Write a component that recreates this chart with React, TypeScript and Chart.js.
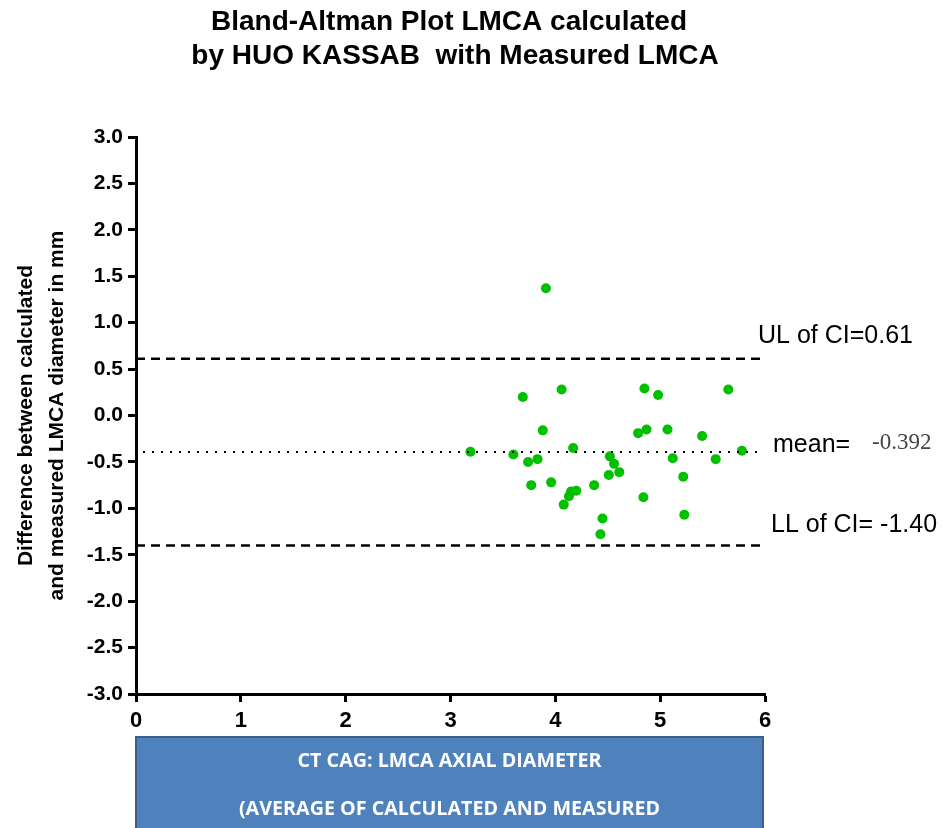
import React, { useEffect, useRef } from "react";
import { Chart, registerables } from "chart.js";

Chart.register(...registerables);

// Chart text
const titleLines = ["Bland-Altman Plot LMCA calculated", "by HUO KASSAB  with Measured LMCA"];
const yTitleLines = ["Difference between calculated", "and measured LMCA diameter in mm"];
const xBoxLines = ["CT CAG: LMCA AXIAL DIAMETER", "(AVERAGE OF CALCULATED AND MEASURED"];

// Average of calculated and measured LMCA diameter (mm)
const averages = [
  3.91, 3.69, 4.06, 4.85, 4.98, 5.65, 3.88, 4.79, 4.87, 5.07, 5.4, 3.19,
  3.6, 4.17, 5.78, 3.74, 3.83, 4.52, 4.56, 5.12, 5.53, 4.51, 4.61, 5.22,
  3.77, 3.96, 4.37, 4.2, 4.15, 4.13, 4.08, 4.84, 5.23, 4.45, 4.43,
];
// Difference between calculated and measured diameter (mm)
const differences = [
  1.37, 0.2, 0.28, 0.29, 0.22, 0.28, -0.16, -0.19, -0.15, -0.15, -0.22, -0.39,
  -0.42, -0.35, -0.38, -0.5, -0.47, -0.44, -0.52, -0.46, -0.47, -0.64, -0.61, -0.66,
  -0.75, -0.72, -0.75, -0.81, -0.82, -0.87, -0.96, -0.88, -1.07, -1.11, -1.28,
];

const meanDiff = -0.392;
const upperLimit = 0.61;
const lowerLimit = -1.4;
const lineEndX = 5.97;

const upperLabel = "UL of CI=0.61";
const meanLabel = "mean=";
const meanValueLabel = "-0.392";
const lowerLabel = "LL of CI= -1.40";

const SANS = '"Liberation Sans", Arial, sans-serif';

const annotations = {
  id: "blandAltmanText",
  afterDraw(chart: any) {
    const ctx: CanvasRenderingContext2D = chart.ctx;
    const y = chart.scales.y;
    const area = chart.chartArea;
    ctx.save();

    // Title
    ctx.fillStyle = "#000";
    ctx.textAlign = "center";
    ctx.textBaseline = "middle";
    ctx.font = `bold 28px ${SANS}`;
    ctx.fillText(titleLines[0], 449, 22);
    ctx.fillText(titleLines[1], 455, 56);

    // Y axis title (rotated)
    ctx.font = `bold 21px ${SANS}`;
    const yMid = (area.top + area.bottom) / 2;
    ctx.save();
    ctx.translate(26, yMid);
    ctx.rotate(-Math.PI / 2);
    ctx.fillText(yTitleLines[0], 0, 0);
    ctx.restore();
    ctx.save();
    ctx.translate(57, yMid);
    ctx.rotate(-Math.PI / 2);
    ctx.fillText(yTitleLines[1], 0, 0);
    ctx.restore();

    // Limit labels on the right
    ctx.textAlign = "left";
    ctx.font = `25px ${SANS}`;
    ctx.fillText(upperLabel, 758, y.getPixelForValue(upperLimit) - 23);
    ctx.fillText(meanLabel, 773, y.getPixelForValue(meanDiff) - 7);
    ctx.fillText(lowerLabel, 771, y.getPixelForValue(lowerLimit) - 20);
    ctx.fillStyle = "#444";
    ctx.font = `23px "Liberation Serif", "Times New Roman", serif`;
    ctx.fillText(meanValueLabel, 872, y.getPixelForValue(meanDiff) - 9);

    // X axis caption box
    const bx = area.left;
    const bw = area.right - area.left - 2;
    const by = 737;
    ctx.fillStyle = "#4F81BD";
    ctx.fillRect(bx, by, bw, 120);
    ctx.strokeStyle = "#3A5F8C";
    ctx.lineWidth = 2;
    ctx.strokeRect(bx, by, bw, 120);

    ctx.fillStyle = "#fff";
    ctx.textAlign = "center";
    ctx.font = `bold 19px "Open Sans", ${SANS}`;
    const w0 = ctx.measureText(xBoxLines[0]).width;
    const sx = 304 / w0;
    const cx = bx + bw / 2;
    [762, 810].forEach((ty, i) => {
      ctx.save();
      ctx.translate(cx, ty);
      ctx.scale(sx, 1);
      ctx.fillText(xBoxLines[i], 0, 0);
      ctx.restore();
    });

    ctx.restore();
  },
};

export default function App() {
  const canvasRef = useRef<HTMLCanvasElement | null>(null);

  useEffect(() => {
    document.body.style.margin = "0";
    const canvas = canvasRef.current;
    if (!canvas) return;

    const tickFont = { family: SANS, size: 21, weight: "bold" as const };
    const limitLine = (value: number, dash: number[], width: number, offset = 0) => ({
      data: [
        { x: 0, y: value },
        { x: lineEndX, y: value },
      ],
      showLine: true,
      borderColor: "#000",
      borderWidth: width,
      borderDash: dash,
      borderDashOffset: offset,
      pointRadius: 0,
      pointHoverRadius: 0,
      fill: false,
    });

    const chart = new Chart(canvas, {
      type: "scatter",
      data: {
        datasets: [
          limitLine(upperLimit, [9, 6], 2.5),
          limitLine(meanDiff, [2, 7], 2, 2),
          limitLine(lowerLimit, [9, 6], 2.5),
          {
            data: averages.map((x, i) => ({ x, y: differences[i] })),
            backgroundColor: "#00C000",
            borderWidth: 0,
            pointRadius: 5,
            pointHoverRadius: 5,
          },
        ],
      },
      options: {
        responsive: false,
        animation: false,
        devicePixelRatio: 1,
        layout: { padding: { left: 0, right: 177, top: 137, bottom: 92 } },
        plugins: {
          legend: { display: false },
          title: { display: false },
          tooltip: { enabled: false },
        },
        scales: {
          x: {
            type: "linear",
            min: 0,
            max: 6,
            afterFit: (s: any) => {
              s.height = 42;
            },
            ticks: { stepSize: 1, color: "#000", font: { ...tickFont, size: 22 }, padding: 6 },
            grid: {
              drawOnChartArea: false,
              drawTicks: true,
              tickLength: 8,
              tickWidth: 3,
              tickColor: "#000",
            },
            border: { display: true, color: "#000", width: 3 },
          },
          y: {
            type: "linear",
            min: -3,
            max: 3,
            afterFit: (s: any) => {
              s.width = 136;
            },
            ticks: {
              stepSize: 0.5,
              color: "#000",
              font: tickFont,
              padding: 5,
              callback: (v: any) => Number(v).toFixed(1),
            },
            grid: {
              drawOnChartArea: false,
              drawTicks: true,
              tickLength: 8,
              tickWidth: 3,
              tickColor: "#000",
            },
            border: { display: true, color: "#000", width: 3 },
          },
        },
      },
      plugins: [annotations],
    });

    return () => chart.destroy();
  }, []);

  return (
    <div style={{ position: "absolute", left: 0, top: 0, width: 942, height: 828, background: "#fff" }}>
      <canvas ref={canvasRef} width={942} height={828} />
    </div>
  );
}
